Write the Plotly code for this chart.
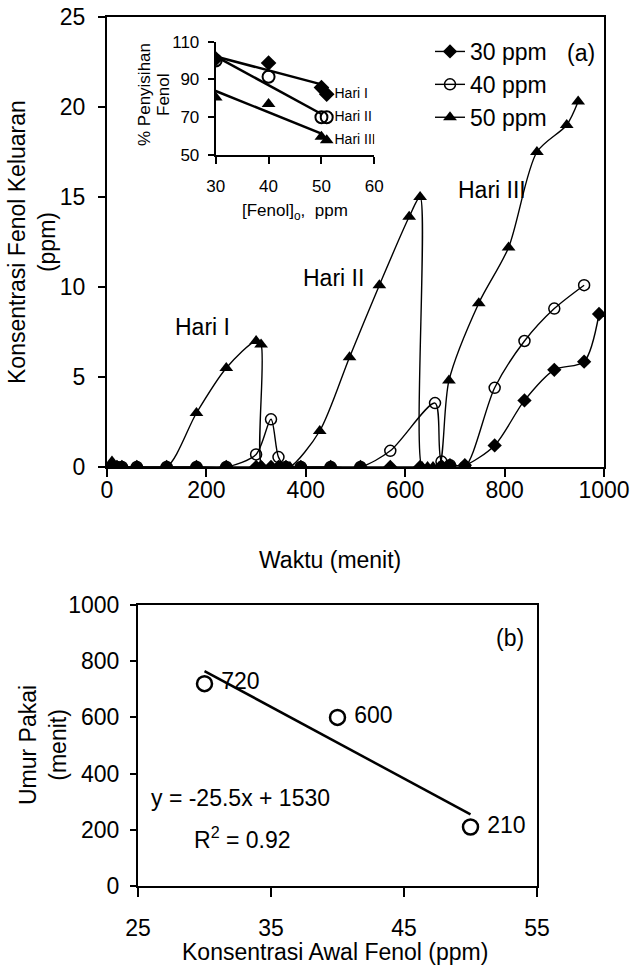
import plotly.graph_objects as go

W, H = 632, 969

# ---------------- data: panel (a) ----------------
t30 = [10, 20, 30, 60, 120, 180, 240, 300, 310, 330, 345, 360, 390, 450, 510, 570, 630, 673, 690, 720, 780, 840, 900, 960, 990]
c30 = [0, 0, 0, 0, 0, 0, 0, 0, 0, 0, 0, 0, 0, 0, 0, 0, 0, 0.05, 0.1, 0.1, 1.2, 3.7, 5.4, 5.85, 8.5]

t40 = [10, 20, 30, 60, 120, 180, 240, 300, 330, 345, 360, 390, 450, 510, 570, 660, 673, 690, 720, 780, 840, 900, 960]
c40 = [0, 0, 0, 0, 0, 0, 0, 0.7, 2.65, 0.55, 0, 0, 0, 0, 0.9, 3.55, 0.3, 0.1, 0, 4.4, 7.0, 8.8, 10.1]

t50 = [10, 20, 30, 60, 120, 180, 240, 300, 310, 312, 330, 345, 368, 428, 488, 548, 608, 630, 634, 645, 656, 668, 688, 748, 808, 865, 925, 948]
c50 = [0.3, 0, 0, 0, 0, 3.0, 5.5, 7.0, 6.8, 0, 0, 0, 0, 2.0, 6.1, 10.1, 13.9, 15.0, 0, 0, 0, 0, 4.8, 9.1, 12.2, 17.5, 19.0, 20.3]

series_names = ["30 ppm", "40 ppm", "50 ppm"]

hari_labels = ["Hari I", "Hari II", "Hari III"]
hari_x = [192, 456, 774]
hari_y = [7.8, 10.5, 15.4]

# ---------------- data: inset ----------------
ins_x = [30, 40, 50, 51]
ins_h1 = [101, 98.7, 85.7, 82.2]
ins_h2 = [100, 91.4, 70, 70]
ins_h3 = [80.4, 77, 59.6, 57.8]
ins_lbl_x = [51, 51, 51]
ins_lbl_y = [82.2, 70, 57.8]
trend_x = [30, 50]
trend_h1 = [102.2, 87.4]
trend_h2 = [102.2, 71.7]
trend_h3 = [83.9, 61.3]

# ---------------- data: panel (b) ----------------
b_x = [30, 40, 50]
b_y = [720, 600, 210]
b_lbl = ["720", "600", "210"]
b_trend_x = [30, 50]
b_trend_y = [765, 255]


def dom_x(a, b):
    return [a / W, b / W]


def dom_y(top, bottom):
    return [1 - bottom / H, 1 - top / H]


def px(x):
    return x / W


def py(y):
    return 1 - y / H


FONT = "Liberation Sans, Arial, sans-serif"
BIG = 23
SMALL = 17

fig = go.Figure()

line_kw = dict(color="black", width=1.4, shape="spline", smoothing=0.8)
fig.add_trace(go.Scatter(x=t30, y=c30, name=series_names[0], mode="lines+markers",
                         line=line_kw, marker=dict(symbol="diamond", size=11, color="black"),
                         xaxis="x", yaxis="y"))
fig.add_trace(go.Scatter(x=t40, y=c40, name=series_names[1], mode="lines+markers",
                         line=line_kw, marker=dict(symbol="circle-open", size=11, color="black",
                                                   line=dict(width=1.5, color="black")),
                         xaxis="x", yaxis="y"))
fig.add_trace(go.Scatter(x=t50, y=c50, name=series_names[2], mode="lines+markers",
                         line=line_kw, marker=dict(symbol="triangle-up", size=12, color="black"),
                         xaxis="x", yaxis="y"))

# inset traces
for tx, ty in [(trend_x, trend_h1), (trend_x, trend_h2), (trend_x, trend_h3)]:
    fig.add_trace(go.Scatter(x=tx, y=ty, mode="lines", line=dict(color="black", width=2.5),
                             showlegend=False, hoverinfo="skip", xaxis="x2", yaxis="y2"))
inset_specs = [
    (ins_h1, dict(symbol="diamond", size=12, color="black")),
    (ins_h2, dict(symbol="circle-open", size=12, color="black", line=dict(width=2, color="black"))),
    (ins_h3, dict(symbol="triangle-up", size=12, color="black")),
]
for yy, mk in inset_specs:
    fig.add_trace(go.Scatter(x=ins_x, y=yy, mode="markers", marker=mk, showlegend=False,
                             xaxis="x2", yaxis="y2"))
fig.add_trace(go.Scatter(x=ins_lbl_x, y=ins_lbl_y, text=hari_labels, mode="text",
                         texttemplate="  %{text}", textposition="middle right",
                         textfont=dict(size=14, family=FONT, color="black"),
                         showlegend=False, xaxis="x2", yaxis="y2"))

# panel (b)
fig.add_trace(go.Scatter(x=b_trend_x, y=b_trend_y, mode="lines", line=dict(color="black", width=2.5),
                         showlegend=False, xaxis="x3", yaxis="y3"))
fig.add_trace(go.Scatter(x=b_x, y=b_y, text=b_lbl, mode="markers+text", textposition="middle right",
                         texttemplate=" %{text}",
                         textfont=dict(size=BIG, family=FONT, color="black"),
                         marker=dict(symbol="circle-open", size=15, color="black",
                                     line=dict(width=2.5, color="black")),
                         showlegend=False, xaxis="x3", yaxis="y3"))

ax_common = dict(showgrid=False, zeroline=False, showline=True, linecolor="black", linewidth=2,
                 ticks="outside", tickcolor="black", tickwidth=1.5, color="black", automargin=False,
                 ticklabeloverflow="allow")


def ann(text, x, y, size=BIG, angle=0, ref="paper"):
    d = dict(text=text, showarrow=False, xanchor="center", yanchor="middle", textangle=angle,
             font=dict(size=size, family=FONT, color="black"))
    if ref == "paper":
        d.update(x=px(x), y=py(y), xref="paper", yref="paper")
    else:
        d.update(x=x, y=y, xref="x", yref="y")
    return d


annotations = [ann(lbl, xx, yy, ref="data") for lbl, xx, yy in zip(hari_labels, hari_x, hari_y)]
annotations += [
    ann("(a)", 581, 53),
    ann("Waktu (menit)", 330, 560),
    ann("Konsentrasi Fenol Keluaran<br>(ppm)", 32, 242, angle=-90),
    ann("% Penyisihan", 145, 95, size=SMALL, angle=-90),
    ann("Fenol", 164, 95, size=SMALL, angle=-90),
    ann("[Fenol]<sub>o</sub>,  ppm", 295, 212, size=SMALL),
    ann("(b)", 510, 638),
    ann("y = -25.5x + 1530", 240, 798),
    ann("R<sup>2</sup> = 0.92", 242, 838),
    ann("Umur Pakai<br>(menit)", 43, 745, angle=-90),
    ann("Konsentrasi Awal Fenol (ppm)", 335, 952),
]

fig.update_layout(
    width=W, height=H,
    margin=dict(l=0, r=0, t=0, b=0, autoexpand=False),
    paper_bgcolor="white", plot_bgcolor="rgba(0,0,0,0)",
    font=dict(family=FONT, color="black", size=BIG),
    showlegend=True,
    legend=dict(x=px(430), y=py(30), xanchor="left", yanchor="top", bgcolor="rgba(0,0,0,0)",
                font=dict(size=BIG, family=FONT, color="black"), tracegroupgap=0),
    xaxis=dict(**ax_common, domain=dom_x(107, 604), range=[0, 1000], dtick=200, tick0=0,
               ticklen=8, mirror=True, anchor="y", tickfont=dict(size=BIG),
               ticklabelstandoff=-7),
    yaxis=dict(**ax_common, domain=dom_y(17, 467), range=[0, 25], dtick=5, tick0=0,
               ticklen=7, mirror=True, anchor="x", tickfont=dict(size=BIG),
               ticklabelstandoff=8),
    xaxis2=dict(**ax_common, domain=dom_x(215.7, 374.3), range=[30, 60], dtick=10, tick0=30,
                ticklen=7, anchor="y2", tickfont=dict(size=SMALL), ticklabelstandoff=8),
    yaxis2=dict(**ax_common, domain=dom_y(41.7, 155), range=[50, 110], dtick=20, tick0=50,
                ticklen=6, anchor="x2", tickfont=dict(size=SMALL), ticklabelstandoff=5),
    xaxis3=dict(**ax_common, domain=dom_x(138, 537), range=[25, 55], dtick=10, tick0=25,
                ticklen=9, mirror=True, anchor="y3", tickfont=dict(size=BIG),
                ticklabelstandoff=11),
    yaxis3=dict(**ax_common, domain=dom_y(605, 886), range=[0, 1000], dtick=200, tick0=0,
                ticklen=6, mirror=True, anchor="x3", tickfont=dict(size=BIG),
                ticklabelstandoff=6),
    annotations=annotations,
)

# remove the default 8 px page margin so the 632x969 figure fills the window exactly
fig.write_html("out.html",
               config={"displayModeBar": False},
               post_script="document.body.style.margin='0';document.body.style.overflow='hidden';")
